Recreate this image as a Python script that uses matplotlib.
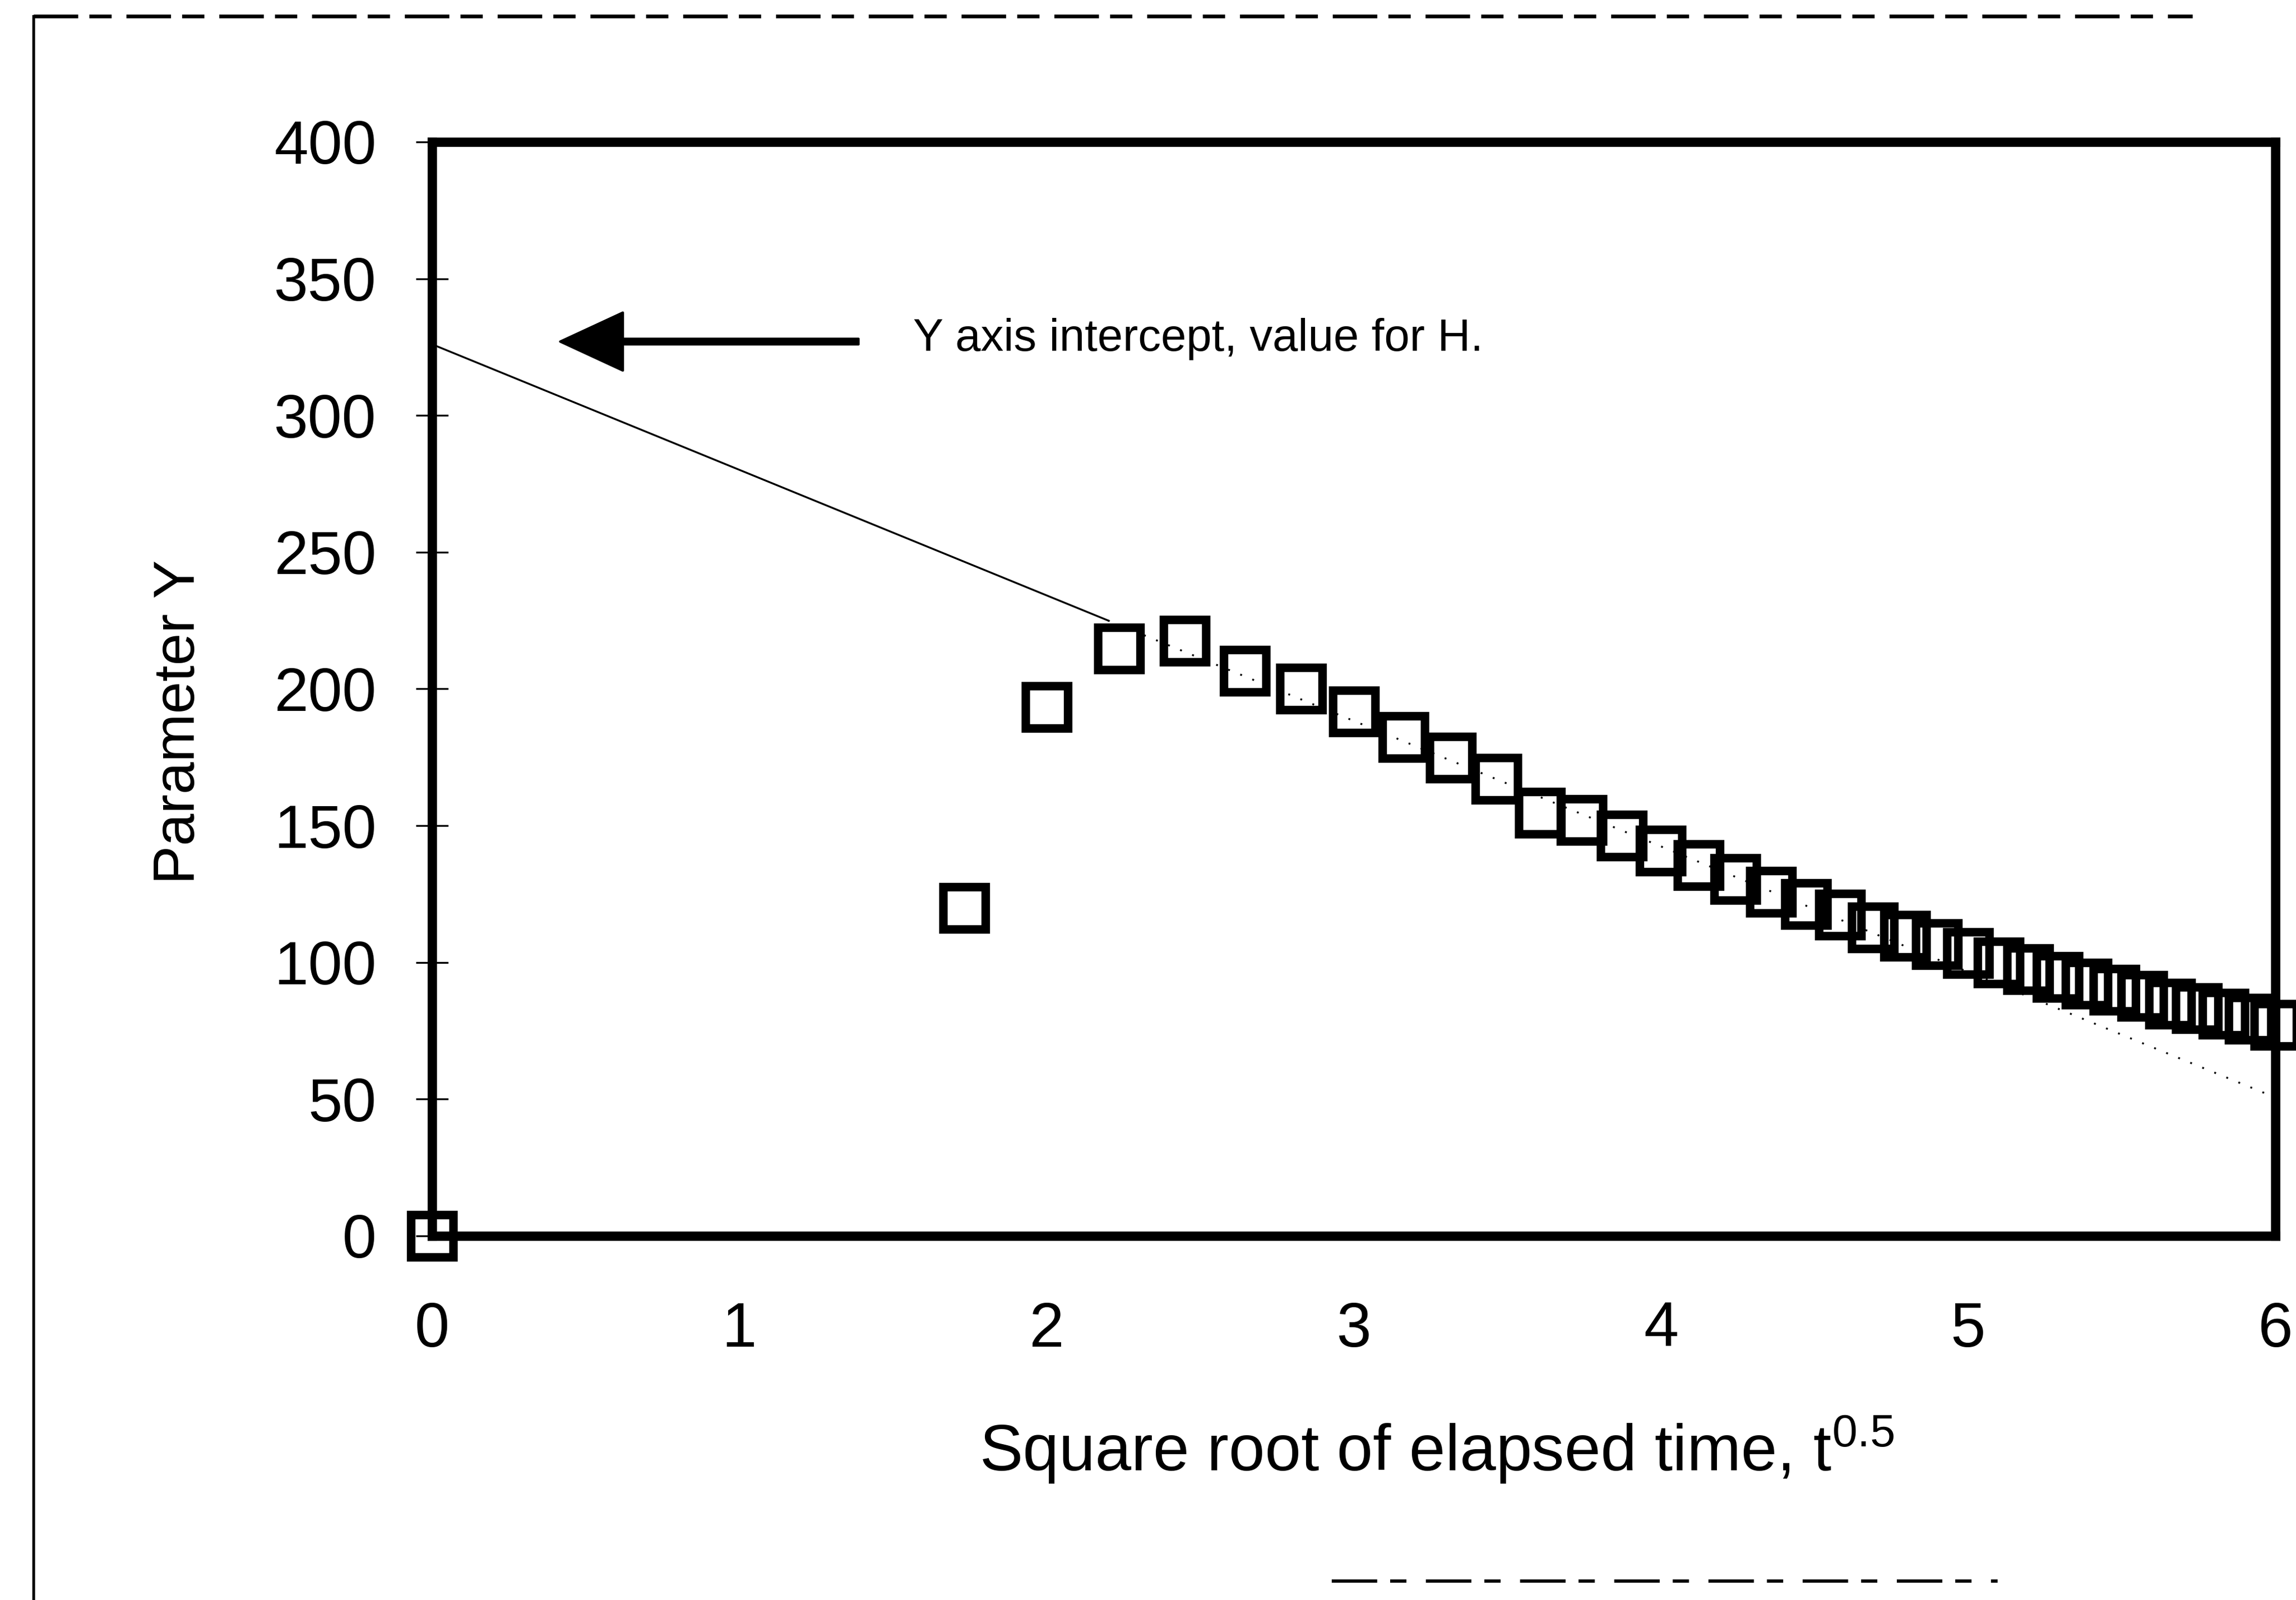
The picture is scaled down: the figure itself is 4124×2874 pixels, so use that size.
import numpy as np
import matplotlib
matplotlib.use("Agg")
import matplotlib.pyplot as plt
from matplotlib.lines import Line2D

plt.rcParams['font.family'] = ['Liberation Sans', 'DejaVu Sans']
plt.rcParams['mathtext.default'] = 'regular'

# ---- data ----
elapsed_time = [0, 3, 4, 5, 6, 7, 8, 9, 10, 11, 12, 13, 14, 15, 16, 17, 18, 19, 20,
                21, 22, 23, 24, 25, 26, 27, 28, 29, 30, 31, 32, 33, 34, 35, 36]
parameter_y = [0, 119.8, 193.3, 214.8, 217.5, 206.5, 200.0, 191.7, 182.4, 174.8,
               167.2, 154.6, 152.0, 146.3, 140.9, 135.5, 130.5, 125.7, 121.3, 117.4,
               112.8, 109.7, 106.6, 103.3, 99.9, 97.4, 94.6, 92.2, 89.9, 87.7,
               84.9, 83.2, 81.1, 79.4, 77.2]
fit_intercept = 326.0   # value for H
fit_slope = -45.9
x_ticks = [0, 1, 2, 3, 4, 5, 6]
y_ticks = [0, 50, 100, 150, 200, 250, 300, 350, 400]
annotation_text = "Y axis intercept, value for H."
x_label = "Square root of elapsed time, t$^{0.5}$"
y_label = "Parameter Y"

sqrt_t = np.sqrt(np.array(elapsed_time, dtype=float))

fig = plt.figure(figsize=(4124 / 300, 2874 / 300), dpi=300)
ax = fig.add_axes([0.1882, 0.2276, 0.8028, 0.6837])

# fitted line: solid near the axis, faint/dotted further on (as in the scan)
split_x = 2.2
xs1 = np.array([0.0, split_x])
xs2 = np.array([split_x, 6.0])
ax.plot(xs1, fit_intercept + fit_slope * xs1, color='black', lw=0.8, zorder=2)
ax.plot(xs2, fit_intercept + fit_slope * xs2, color='black', lw=0.8,
        linestyle=(0, (1.0, 6.0)), zorder=2)

# data markers: hollow squares
ax.plot(sqrt_t, parameter_y, linestyle='none', marker='s', ms=18.3, mew=3.7,
        mfc='none', mec='black', clip_on=False, zorder=5)

ax.set_xlim(0, 6)
ax.set_ylim(0, 400)
ax.set_xticks(x_ticks)
ax.set_yticks(y_ticks)
ax.set_xticklabels([str(v) for v in x_ticks], fontsize=27)
ax.set_yticklabels([str(v) for v in y_ticks], fontsize=26.5)
ax.tick_params(axis='y', direction='inout', length=14, width=0.8, pad=17)
ax.tick_params(axis='x', length=0, pad=28)

for sp in ax.spines.values():
    sp.set_linewidth(4)
    sp.set_color('black')

ax.text(-0.137, 0.47, y_label, transform=ax.transAxes, rotation=90,
        ha='center', va='center', fontsize=25)
ax.text(0.545, -0.215, x_label, transform=ax.transAxes,
        ha='center', va='baseline', fontsize=28)

# annotation arrow and text
ax.annotate('', xy=(0.417, 327), xytext=(1.388, 327),
            arrowprops=dict(width=2.4, headwidth=25, headlength=27,
                            facecolor='black', edgecolor='black', shrink=0))
ax.text(1.566, 328, annotation_text, ha='left', va='center', fontsize=19.7)

# outer chart-area border fragments visible in the scan
fig.add_artist(Line2D([0.0145, 0.0145], [0.0, 0.99], transform=fig.transFigure,
                      color='black', lw=1.2))
fig.add_artist(Line2D([0.0145, 0.955], [0.99, 0.99], transform=fig.transFigure,
                      color='black', lw=1.6, linestyle=(0, (12, 3, 6, 4))))
fig.add_artist(Line2D([0.58, 0.87], [0.012, 0.012], transform=fig.transFigure,
                      color='black', lw=1.4, linestyle=(0, (14, 4, 5, 6))))

fig.savefig('out.png', dpi=300, facecolor='white')
